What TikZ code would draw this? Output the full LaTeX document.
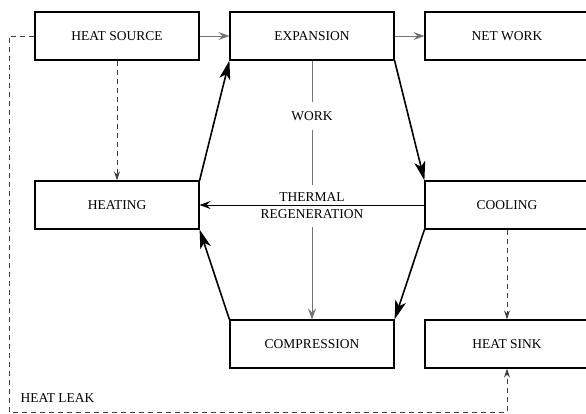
\documentclass[tikz,border=0pt]{standalone}
\usepackage{fontspec}
\setmainfont{Liberation Serif}
\usetikzlibrary{arrows.meta}

\tikzset{
    box/.style={draw, line width=1.2pt, minimum width=164pt, minimum height=48pt,
        inner sep=0pt, font=\fontsize{13.5}{15}\selectfont},
    flow/.style={line width=1.6pt, -{Stealth[length=19pt, width=11pt, inset=5pt]}},
    feed/.style={line width=1pt, black!55, -{Stealth[length=11pt, width=8pt, inset=4pt]}},
    regen/.style={line width=0.9pt, -{Stealth[length=11pt, width=8pt, inset=4pt]}},
    leak/.style={line width=0.8pt, black!75, dash pattern=on 5pt off 4pt,
        -{Stealth[length=9pt, width=6pt, inset=3pt]}},
    tag/.style={fill=white, inner xsep=2pt, font=\fontsize{13.5}{15}\selectfont}
}

\begin{document}
\begin{tikzpicture}[x=1pt, y=-1pt]
    \useasboundingbox (0,0) rectangle (586,413);

    % Boxes
    \node[box] (source) at (117,36) {HEAT SOURCE};
    \node[box] (expansion) at (312,36) {EXPANSION};
    \node[box] (network) at (507,36) {NET WORK};
    \node[box] (heating) at (117,205) {HEATING};
    \node[box] (cooling) at (507,205) {COOLING};
    \node[box] (compression) at (312,344) {COMPRESSION};
    \node[box] (sink) at (507,344) {HEAT SINK};

    % Cycle
    \draw[flow] (heating.north east) -- (expansion.south west);
    \draw[flow] (expansion.south east) -- (cooling.north west);
    \draw[flow] (cooling.south west) -- (compression.north east);
    \draw[flow] (compression.north west) -- (heating.south east);

    % Work and heat
    \draw[feed] (source) -- (expansion);
    \draw[feed] (expansion) -- (network);
    \draw[feed] (expansion.south) -- (compression.north);
    \node[tag, inner ysep=9pt] (work) at (312,116) {WORK};
    \node[tag, inner ysep=8pt, align=center] (thermal) at (312,206)
        {THERMAL\\[2pt]REGENERATION};
    \draw[regen] (cooling.west) -- (heating.east);
    \draw[leak] (source.south) -- (heating.north);
    \draw[leak] (cooling.south) -- (sink.north);

    % Heat leak
    \coordinate (leaktop) at (9,36);
    \coordinate (leakbottom) at (9,412);
    \draw[leak] (source.west) -- (leaktop) -- (leakbottom) -| (sink.south);
    \node[anchor=west, font=\fontsize{13.5}{15}\selectfont] (leak) at (17,398) {HEAT LEAK};
\end{tikzpicture}
\end{document}
